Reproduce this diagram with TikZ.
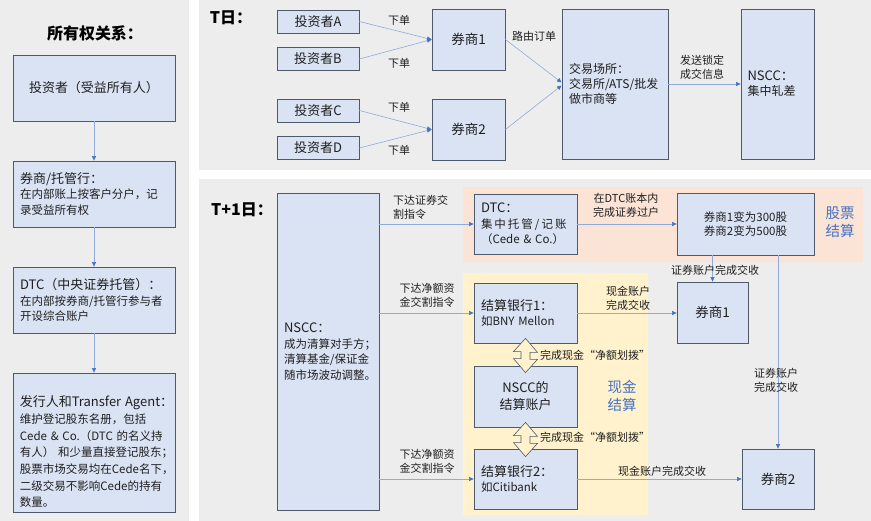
\documentclass[tikz,border=0pt]{standalone}
\usepackage{fontspec}
\setmainfont{Noto Sans CJK SC}
\usetikzlibrary{arrows.meta}
\definecolor{panelgray}{HTML}{EDEDED}
\definecolor{boxfill}{HTML}{DAE3F3}
\definecolor{boxline}{HTML}{4D5A6B}
\definecolor{linkblue}{HTML}{8FAADC}
\definecolor{tipblue}{HTML}{4472C4}
\definecolor{stockbg}{HTML}{FBE3D6}
\definecolor{cashbg}{HTML}{FFF2CC}
\definecolor{tagblue}{HTML}{4472C4}
\definecolor{txtdark}{HTML}{1F1F1F}
\newcommand{\szhd}{\fontsize{13}{16}\selectfont}
\tikzset{
  box/.style={draw=boxline, fill=boxfill, line width=0.8pt, inner sep=0pt, text=txtdark, font=\fontsize{11.5}{15.5}\selectfont},
  inv/.style={box, minimum width=82pt, minimum height=23pt, font=\fontsize{13}{15}\selectfont},
  bk/.style={box, minimum width=73pt, minimum height=61pt, font=\fontsize{13.5}{16}\selectfont},
  own/.style={box, minimum width=162pt, minimum height=66pt, text width=148pt, align=left},
  bank/.style={box, minimum width=103pt, minimum height=60pt, text width=89pt, align=left},
  arr/.style={draw=linkblue, line width=0.6pt, -{Triangle[length=4.5pt,width=4pt,color=tipblue]}},
  lbl/.style={font=\fontsize{11}{14}\selectfont, align=center, inner sep=1pt, text=txtdark},
  hd/.style={font=\bfseries\fontsize{16}{19}\selectfont, text=black},
  tag/.style={font=\fontsize{14.5}{18}\selectfont, text=tagblue, align=center},
  hollow/.style={draw=boxline, fill=cashbg, line width=0.6pt, line join=miter},
}
\begin{document}
\begin{tikzpicture}[x=1pt,y=-1pt]
\useasboundingbox (0,0) rectangle (871,521);
% panels and settlement areas
\fill[panelgray] (0,0) rectangle (189,521);
\fill[panelgray] (199,0) rectangle (871,170);
\fill[panelgray] (199,179) rectangle (871,521);
\fill[stockbg] (463,187) rectangle (863,262);
\fill[cashbg] (463,273) rectangle (648,515);

% ownership chain
\node[hd] (ownt) at (95,33) {所有权关系：};
\node[box, minimum width=162pt, minimum height=66pt, font=\fontsize{13}{16}\selectfont] (own1) at (94,88) {投资者（受益所有人）};
\node[own] (own2) at (94,194) {{\szhd 券商/托管行：}\\在内部账上按客户分户，记\\录受益所有权};
\node[own] (own3) at (94,300) {{\szhd DTC（中央证券托管）：}\\在内部按券商/托管行参与者\\开设综合账户};
\node[box, minimum width=162pt, minimum height=139pt] (own4) at (94,442.5) {};
\node[text=txtdark, inner sep=0pt, anchor=north west, text width=180pt, align=left, font=\fontsize{11.5}{16.7}\selectfont] (own4t) at ([xshift=7pt,yshift=-23pt]own4.north west) {{\szhd 发行人和Transfer~Agent：}\\维护登记股东名册，包括\\Cede~\&~Co.（DTC~的名义持\\有人）~和少量直接登记股东；\\股票市场交易均在Cede名下，\\二级交易不影响Cede的持有\\数量。};
\draw[arr] (own1.south) -- (own2.north);
\draw[arr] (own2.south) -- (own3.north);
\draw[arr] (own3.south) -- (own4.north);

% T day
\node[hd] (tday) at (231,18) {T日：};
\node[inv] (invA) at (318,21.5) {投资者A};
\node[inv] (invB) at (318,59) {投资者B};
\node[inv] (invC) at (318,110.5) {投资者C};
\node[inv] (invD) at (318,148) {投资者D};
\node[bk] (bk1) at (468.5,39.5) {券商1};
\node[bk] (bk2) at (468.5,129.5) {券商2};
\node[box, minimum width=106pt, minimum height=150pt, text width=92pt, align=left, font=\fontsize{12}{15}\selectfont] (venue) at (615,84) {交易场所：\\交易所/ATS/批发\\做市商等};
\node[box, minimum width=73pt, minimum height=150pt, text width=60pt, align=left, font=\fontsize{12}{15}\selectfont] (nsccT) at (777.5,84) {{\szhd NSCC：}\\集中轧差};
\draw[arr] (invA.east) -- (bk1.west);
\draw[arr] (invB.east) -- (bk1.west);
\draw[arr] (invC.east) -- (bk2.west);
\draw[arr] (invD.east) -- (bk2.west);
\draw[arr] (bk1.east) -- ([yshift=1.5pt]venue.west);
\draw[arr] (bk2.east) -- ([yshift=-1.5pt]venue.west);
\draw[arr] (venue.east) -- (nsccT.west);
\node[lbl] (ordA) at (399,20) {下单};
\node[lbl] (ordB) at (399,63) {下单};
\node[lbl] (ordC) at (399,107) {下单};
\node[lbl] (ordD) at (399,150) {下单};
\node[lbl] (route) at (534,36) {路由订单};
\node[lbl] (lockmsg) at (702,67.5) {发送锁定\\成交信息};

% T+1 day
\node[hd] (tone) at (242,210) {T+1日：};
\node[box, minimum width=102pt, minimum height=317pt, text width=88pt, align=left] (nsccB) at (328,351.5) {{\szhd NSCC：}\\成为清算对手方；\\清算基金/保证金\\随市场波动调整。};
\node[bank] (dtc) at (525.5,224) {{\szhd DTC：}\\集\kern2pt 中\kern2pt 托\kern2pt 管\kern2pt /\kern2pt 记\kern2pt 账\\（Cede~\&~Co.）};
\node[bank] (stl1) at (525.5,313) {{\szhd 结算银行1：}\\如BNY~Mellon};
\node[box, minimum width=103pt, minimum height=61pt, align=center, font=\fontsize{13}{17}\selectfont] (nacct) at (525.5,396.5) {NSCC的\\结算账户};
\node[bank] (stl2) at (525.5,479) {{\szhd 结算银行2：}\\如Citibank};
\node[box, minimum width=137pt, minimum height=62pt, align=center, font=\fontsize{11.5}{14.5}\selectfont] (shares) at (745.5,224) {券商1变为300股\\券商2变为500股};
\node[bk, minimum width=71pt] (br1) at (712.5,312.5) {券商1};
\node[bk, minimum width=72pt, minimum height=60pt] (br2) at (778,479) {券商2};
\draw[arr] (nsccB.east |- dtc.west) -- (dtc.west);
\draw[arr] (nsccB.east |- stl1.west) -- (stl1.west);
\draw[arr] (nsccB.east |- stl2.west) -- (stl2.west);
\draw[arr] (dtc.east) -- (shares.west);
\draw[arr] (stl1.east) -- (stl1.east -| br1.west);
\draw[arr] (stl2.east) -- (br2.west);
\draw[arr] (shares.south -| br1.north) -- (br1.north);
\draw[arr] (shares.south -| br2.north) -- (br2.north);
% hollow two-way arrows for the net cash transfers
\draw[hollow] ([yshift=5pt]stl1.south) -- ++(12,14) -- ++(-7.5,0) -- ++(0,7) -- ++(7.5,0) -- ([yshift=-7pt]nacct.north) -- ++(-12,-14) -- ++(7.5,0) -- ++(0,-7) -- ++(-7.5,0) -- cycle;
\draw[hollow] ([yshift=5pt]nacct.south) -- ++(12,14) -- ++(-7.5,0) -- ++(0,7) -- ++(7.5,0) -- ([yshift=-8pt]stl2.north) -- ++(-12,-14) -- ++(7.5,0) -- ++(0,-7) -- ++(-7.5,0) -- cycle;
\node[lbl, align=left, anchor=west] (secinst) at (392,207) {下达证券交\\割指令};
\node[lbl] (cash1inst) at (427,295) {下达净额资\\金交割指令};
\node[lbl] (cash2inst) at (427,461) {下达净额资\\金交割指令};
\node[lbl] (xfer) at (626,205) {在DTC账本内\\完成证券过户};
\node[lbl] (sec1) at (715,270) {证券账户完成交收};
\node[lbl] (cash1) at (628,298) {现金账户\\完成交收};
\node[lbl, anchor=west] (net1) at (539,355) {完成现金“净额划拨”};
\node[lbl, anchor=west] (net2) at (539,437) {完成现金“净额划拨”};
\node[tag] (cashtag) at (622,396) {现金\\结算};
\node[tag] (stocktag) at (840,222.5) {股票\\结算};
\node[lbl] (sec2) at (776,380) {证券账户\\完成交收};
\node[lbl] (cash2) at (662,471) {现金账户完成交收};
\end{tikzpicture}
\end{document}
